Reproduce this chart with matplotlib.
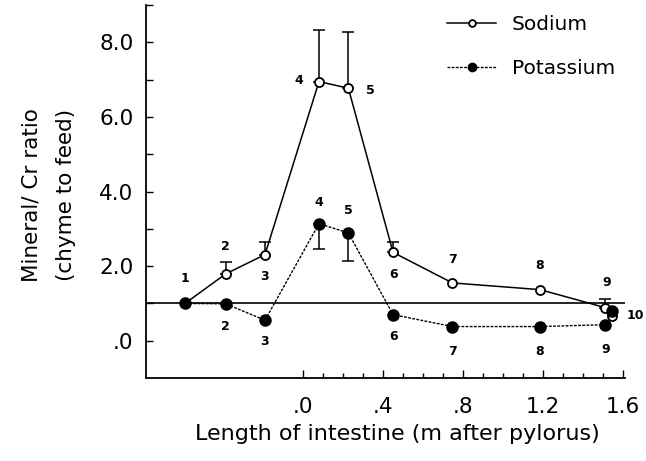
import numpy as np
import matplotlib
matplotlib.use("Agg")
import matplotlib.pyplot as plt

# segment positions (m after pylorus) and mineral/Cr ratios
segments = [1, 2, 3, 4, 5, 6, 7, 8, 9, 10]
position = [-0.59, -0.387, -0.19, 0.08, 0.227, 0.45, 0.747, 1.185, 1.51, 1.547]
sodium = [1.0, 1.79, 2.31, 6.95, 6.77, 2.37, 1.55, 1.37, 0.89, 0.65]
sodium_err = [0, 0.31, 0.34, 1.37, 1.52, 0.28, 0, 0, 0.23, 0]
potassium = [1.0, 0.99, 0.55, 3.14, 2.89, 0.70, 0.38, 0.38, 0.43, 0.81]
potassium_err = [0, 0, 0, 0.67, 0.76, 0, 0, 0, 0, 0]

xticks = [0.0, 0.4, 0.8, 1.2, 1.6]
xticklabels = [".0", ".4", ".8", "1.2", "1.6"]
yticks = [0, 2, 4, 6, 8]
yticklabels = [".0", "2.0", "4.0", "6.0", "8.0"]

# where each segment number sits relative to its point (pixels)
na_offsets = [(0, 25), (0, 27), (0, -22), (-20, 1), (22, -2), (1, -22), (0, 23), (0, 24), (2, 25), (23, 1)]
k_offsets = [None, (0, -23), (0, -21), (0, 21), (0, 22), (1, -22), (0, -25), (0, -25), (1, -25), None]

plt.rcParams["font.family"] = "DejaVu Sans"

fig = plt.figure(figsize=(6.46, 4.61), dpi=100)
ax = fig.add_axes([0.226, 0.18, 0.7415, 0.809])

x = np.array(position)
na = np.array(sodium)
k = np.array(potassium)
na_e = np.array(sodium_err)
k_e = np.array(potassium_err)

ax.axhline(1.0, color="black", lw=1.2, zorder=1)

m = na_e > 0
ax.errorbar(x[m], na[m], yerr=[np.zeros(m.sum()), na_e[m]], fmt="none",
            ecolor="black", elinewidth=1.1, capsize=4, capthick=1.1, zorder=2)
m = k_e > 0
ax.errorbar(x[m], k[m], yerr=[k_e[m], np.zeros(m.sum())], fmt="none",
            ecolor="black", elinewidth=1.1, capsize=4, capthick=1.1, zorder=2)

ax.plot(x, na, color="black", lw=1.1, marker="o", ms=6.5, mfc="white",
        mec="black", mew=1.3, label="Sodium", zorder=3)
ax.plot(x, k, color="black", lw=1.0, ls=(0, (2, 1)), marker="o", ms=8,
        mfc="black", mec="black", label="Potassium", zorder=3)

for i, s in enumerate(segments):
    if na_offsets[i] is not None:
        ax.annotate(str(s), (x[i], na[i]), xytext=na_offsets[i], fontweight="bold",
                    textcoords="offset pixels", ha="center", va="center", fontsize=9)
    if k_offsets[i] is not None:
        ax.annotate(str(s), (x[i], k[i]), xytext=k_offsets[i], fontweight="bold",
                    textcoords="offset pixels", ha="center", va="center", fontsize=9)

ax.set_xlim(-0.785, 1.61)
ax.set_ylim(-1, 9)
ax.set_xticks(xticks)
ax.set_xticklabels(xticklabels)
ax.set_xticks(np.arange(0, 1.61, 0.1), minor=True)
ax.set_yticks(yticks)
ax.set_yticklabels(yticklabels)
ax.set_yticks([1, 3, 5, 7, 9], minor=True)

ax.tick_params(axis="both", which="both", direction="in", width=1, labelsize=15.5)
ax.tick_params(axis="y", which="both", length=5, pad=9)
ax.tick_params(axis="x", which="major", length=6, pad=14)
ax.tick_params(axis="x", which="minor", length=3.5)

for sp in ["top", "right"]:
    ax.spines[sp].set_visible(False)
for sp in ["left", "bottom"]:
    ax.spines[sp].set_linewidth(1.3)

ax.set_xlabel("Length of intestine (m after pylorus)", fontsize=16, labelpad=5, x=0.525)
ax.set_ylabel("Mineral/ Cr ratio\n(chyme to feed)", fontsize=15.5, labelpad=17,
              linespacing=1.9, y=0.49)

ax.legend(loc="upper left", bbox_to_anchor=(0.6, 1.01), frameon=False,
          fontsize=14.5, handlelength=2.4, handletextpad=0.8, labelspacing=1.2,
          borderpad=0.2, markerscale=0.75)

fig.savefig("out.png", dpi=100)
